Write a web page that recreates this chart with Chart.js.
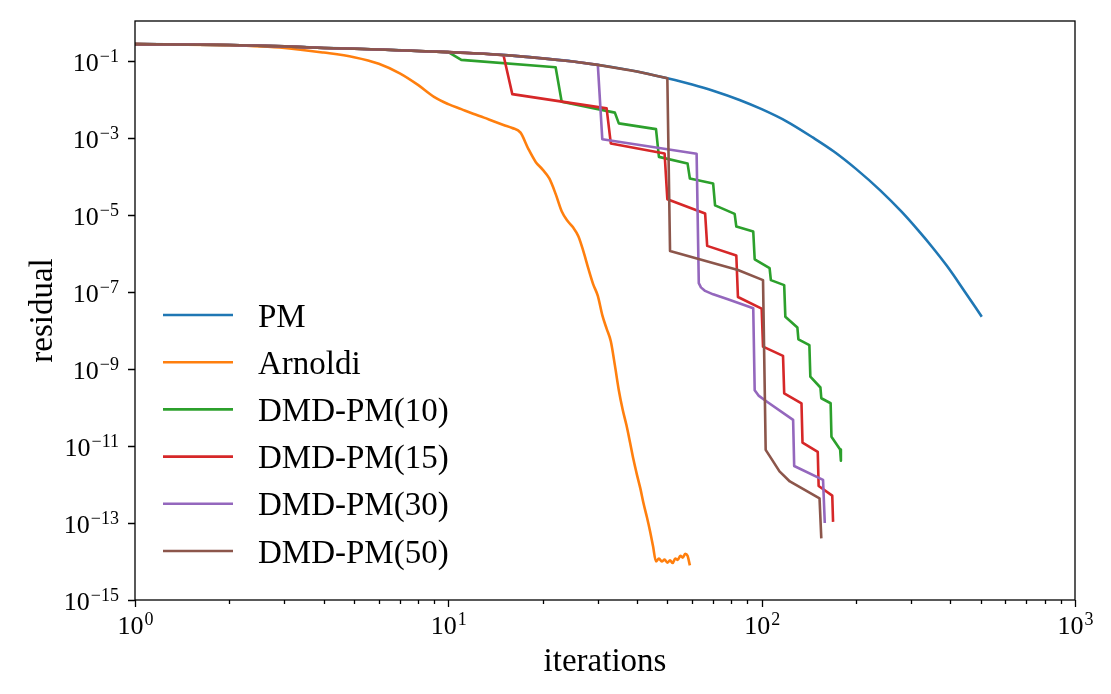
<!DOCTYPE html>
<html><head><meta charset="utf-8">
<script src="https://cdn.jsdelivr.net/npm/chart.js@4.4.0/dist/chart.umd.min.js"></script>
<style>html,body{margin:0;padding:0;background:#fff;}#wrap{width:1111px;height:694px;position:relative;}</style>
</head><body><div id="wrap"><canvas id="c" width="1111" height="694"></canvas></div>
<script>
const seriesNames = ['PM','Arnoldi','DMD-PM(10)','DMD-PM(15)','DMD-PM(30)','DMD-PM(50)'];
const seriesColors = ['#1f77b4','#ff7f0e','#2ca02c','#d62728','#9467bd','#8c564b'];

const pmIter = [1,2,3,4,5,6,8,10,13,16,20,25,30,40,50,60,70,85,100,120,146,170,200,239,280,316,350,390,440,504];
const pmRes = [2.75e-1,2.60e-1,2.40e-1,2.19e-1,2.09e-1,2.00e-1,1.82e-1,1.70e-1,1.55e-1,1.38e-1,1.17e-1,9.77e-2,7.94e-2,5.37e-2,3.55e-2,2.45e-2,1.70e-2,9.77e-3,5.62e-3,2.72e-3,1.02e-3,4.47e-4,1.58e-4,4.37e-5,1.20e-5,3.98e-6,1.48e-6,4.79e-7,1.17e-7,2.29e-8];

const arnIter = [1,2,3,4,5,6,7,8,9,10,11,12,13,14,15,16,17,18,19,20,21,22,23,24,25,26,27,28,29,30,31,32,33,34,35,36,37,38,39,40,41,42,43,44,45,46,47,48,49,50,51,52,53,54,55,56,57,58,59];
const arnRes = [2.75e-1,2.57e-1,2.19e-1,1.66e-1,1.26e-1,8.51e-2,4.79e-2,2.40e-2,1.17e-2,7.59e-3,5.62e-3,4.27e-3,3.39e-3,2.69e-3,2.19e-3,1.82e-3,1.38e-3,5.25e-4,2.40e-4,1.51e-4,8.91e-5,3.55e-5,1.26e-5,7.08e-6,4.79e-6,2.82e-6,1.12e-6,3.98e-7,1.58e-7,7.94e-8,2.51e-8,1.12e-8,5.25e-9,1.26e-9,2.82e-10,8.91e-11,3.55e-11,1.26e-11,4.37e-12,1.78e-12,7.94e-13,3.16e-13,1.45e-13,6.31e-14,2.51e-14,1.00e-14,1.20e-14,1.00e-14,1.12e-14,9.33e-15,1.07e-14,9.12e-15,1.20e-14,1.10e-14,1.41e-14,1.26e-14,1.58e-14,1.41e-14,7.94e-15];

const dmd10Iter = [1,2,3,4,5,6,8,10,11,22,23,34,35,46,47,58,59,70,71,82,83,94,95,106,107,118,119,130,131,142,143,154,155,166,167,178,179];
const dmd10Res = [2.75e-1,2.60e-1,2.40e-1,2.19e-1,2.09e-1,2.00e-1,1.82e-1,1.70e-1,1.07e-1,6.92e-2,8.71e-3,4.57e-3,2.40e-3,1.70e-3,3.24e-4,2.19e-4,8.91e-5,6.61e-5,1.78e-5,1.07e-5,5.01e-6,3.72e-6,7.08e-7,4.17e-7,2.04e-7,1.51e-7,2.29e-8,1.20e-8,5.89e-9,4.17e-9,6.31e-10,3.31e-10,1.74e-10,1.29e-10,1.74e-11,8.13e-12,4.17e-12];

const dmd15Iter = [1,2,3,4,5,6,8,10,13,15,16,32,33,49,50,66,67,83,84,100,101,117,118,134,135,151,152,168,169];
const dmd15Res = [2.75e-1,2.60e-1,2.40e-1,2.19e-1,2.09e-1,2.00e-1,1.82e-1,1.70e-1,1.55e-1,1.41e-1,1.38e-2,5.89e-3,7.24e-4,3.98e-4,2.57e-5,1.10e-5,1.58e-6,8.91e-7,7.41e-8,3.72e-8,3.80e-9,2.19e-9,2.34e-10,1.29e-10,1.23e-11,7.08e-12,9.12e-13,5.13e-13,1.07e-13];

const dmd30Iter = [1,2,3,4,5,6,8,10,13,16,20,25,30,31,62,63,64,66,70,78,94,95,98,104,126,127,157,159];
const dmd30Res = [2.75e-1,2.60e-1,2.40e-1,2.19e-1,2.09e-1,2.00e-1,1.82e-1,1.70e-1,1.55e-1,1.38e-1,1.17e-1,9.77e-2,7.94e-2,9.33e-4,3.89e-4,1.70e-7,1.32e-7,1.07e-7,8.71e-8,6.46e-8,3.80e-8,2.82e-10,2.00e-10,1.41e-10,4.79e-11,3.02e-12,1.32e-12,1.00e-13];

const dmd50Iter = [1,2,3,4,5,6,8,10,13,16,20,25,30,40,50,51,84,101,103,108,114,123,153,155];
const dmd50Res = [2.75e-1,2.60e-1,2.40e-1,2.19e-1,2.09e-1,2.00e-1,1.82e-1,1.70e-1,1.55e-1,1.38e-1,1.17e-1,9.77e-2,7.94e-2,5.37e-2,3.55e-2,1.17e-6,3.72e-7,2.04e-7,7.94e-12,4.37e-12,2.19e-12,1.20e-12,4.37e-13,3.98e-14];

const xTickValues = [1,10,100,1000];
const xTickExponents = ['0','1','2','3'];
const xMinorTickValues = [2,3,4,5,6,7,8,9,20,30,40,50,60,70,80,90,200,300,400,500,600,700,800,900];
const yTickValues = [1e-15,1e-13,1e-11,1e-9,1e-7,1e-5,1e-3,1e-1];
const yTickExponents = ['\u221215','\u221213','\u221211','\u22129','\u22127','\u22125','\u22123','\u22121'];
const xTitle = 'iterations';
const yTitle = 'residual';

const iterLists = [pmIter, arnIter, dmd10Iter, dmd15Iter, dmd30Iter, dmd50Iter];
const resLists = [pmRes, arnRes, dmd10Res, dmd15Res, dmd30Res, dmd50Res];
const smoothSeries = [true, true, false, false, false, false];

const FONT = '"Liberation Serif","Times New Roman",Times,serif';

const datasets = seriesNames.map((name, i) => ({
  label: name,
  data: iterLists[i].map((k, j) => ({x: k, y: resLists[i][j]})),
  borderColor: seriesColors[i],
  backgroundColor: seriesColors[i],
  borderWidth: 2.6,
  pointRadius: 0,
  pointHoverRadius: 0,
  tension: 0,
  cubicInterpolationMode: smoothSeries[i] ? 'monotone' : 'default',
  fill: false,
  borderJoinStyle: 'round',
  borderCapStyle: 'butt',
  order: seriesNames.length - 1 - i
}));

const mplPlugin = {
  id: 'mplAxes',
  afterDatasetsDraw(chart) {
    const ctx = chart.ctx, a = chart.chartArea;
    const xs = chart.scales.x, ys = chart.scales.y;
    ctx.save();
    ctx.strokeStyle = '#000';
    ctx.fillStyle = '#000';
    ctx.lineWidth = 1.3;
    ctx.strokeRect(a.left, a.top, a.right - a.left, a.bottom - a.top);
    ctx.beginPath();
    xs.ticks.forEach(t => {
      const px = Math.round(xs.getPixelForValue(t.value)) + 0.5;
      ctx.moveTo(px, a.bottom);
      ctx.lineTo(px, a.bottom + (t.major ? 7 : 4));
    });
    ys.ticks.forEach(t => {
      const py = Math.round(ys.getPixelForValue(t.value)) + 0.5;
      ctx.moveTo(a.left, py);
      ctx.lineTo(a.left - 7, py);
    });
    ctx.stroke();
    const big = '26px ' + FONT, small = '18px ' + FONT;
    ctx.textBaseline = 'alphabetic';
    ctx.textAlign = 'left';
    xs.ticks.forEach(t => {
      if (!t.major) return;
      const px = xs.getPixelForValue(t.value);
      ctx.font = big; const w1 = ctx.measureText('10').width;
      ctx.font = small; const w2 = ctx.measureText(t.exp).width;
      const x0 = px - (w1 + w2) / 2;
      ctx.font = big; ctx.fillText('10', x0, a.bottom + 34);
      ctx.font = small; ctx.fillText(t.exp, x0 + w1 + 1, a.bottom + 25);
    });
    ys.ticks.forEach(t => {
      const py = ys.getPixelForValue(t.value);
      ctx.font = small; const w2 = ctx.measureText(t.exp).width;
      ctx.font = big; const w1 = ctx.measureText('10').width;
      const right = a.left - 16;
      ctx.font = big; ctx.fillText('10', right - w2 - w1 - 1, py + 10);
      ctx.font = small; ctx.fillText(t.exp, right - w2, py + 0.5);
    });
    ctx.font = '33px ' + FONT;
    ctx.textAlign = 'center';
    ctx.fillText(xTitle, (a.left + a.right) / 2, 671);
    ctx.save();
    ctx.translate(52, (a.top + a.bottom) / 2);
    ctx.rotate(-Math.PI / 2);
    ctx.fillText(yTitle, 0, 0);
    ctx.restore();
    ctx.textAlign = 'left';
    ctx.font = '33px ' + FONT;
    seriesNames.forEach((name, i) => {
      const ly = a.top + 294 + i * 47.2;
      ctx.beginPath();
      ctx.strokeStyle = seriesColors[i];
      ctx.lineWidth = 2.6;
      ctx.moveTo(a.left + 28, ly);
      ctx.lineTo(a.left + 98, ly);
      ctx.stroke();
      ctx.fillStyle = '#000';
      ctx.fillText(name, a.left + 123, ly + 11.5);
    });
    ctx.restore();
  }
};

new Chart(document.getElementById('c'), {
  type: 'line',
  data: { datasets },
  options: {
    responsive: false,
    animation: false,
    events: [],
    layout: { padding: { left: 0, right: 36, top: 21, bottom: 0 } },
    plugins: { legend: { display: false }, tooltip: { enabled: false }, title: { display: false } },
    scales: {
      x: {
        type: 'logarithmic', min: 1, max: 1000, bounds: 'data',
        grid: { display: false }, border: { display: false },
        ticks: { display: false },
        afterBuildTicks(scale) {
          const major = xTickValues.map((v, i) => ({ value: v, major: true, exp: xTickExponents[i] }));
          const minor = xMinorTickValues.map(v => ({ value: v, major: false, exp: '' }));
          scale.ticks = major.concat(minor);
        },
        afterFit(scale) { scale.height = 94; }
      },
      y: {
        type: 'logarithmic', min: 1e-15, max: 1.096, bounds: 'data',
        grid: { display: false }, border: { display: false },
        ticks: { display: false },
        afterBuildTicks(scale) {
          scale.ticks = yTickValues.map((v, i) => ({ value: v, major: true, exp: yTickExponents[i] }));
        },
        afterFit(scale) { scale.width = 135; }
      }
    }
  },
  plugins: [mplPlugin]
});
</script>
</body></html>
